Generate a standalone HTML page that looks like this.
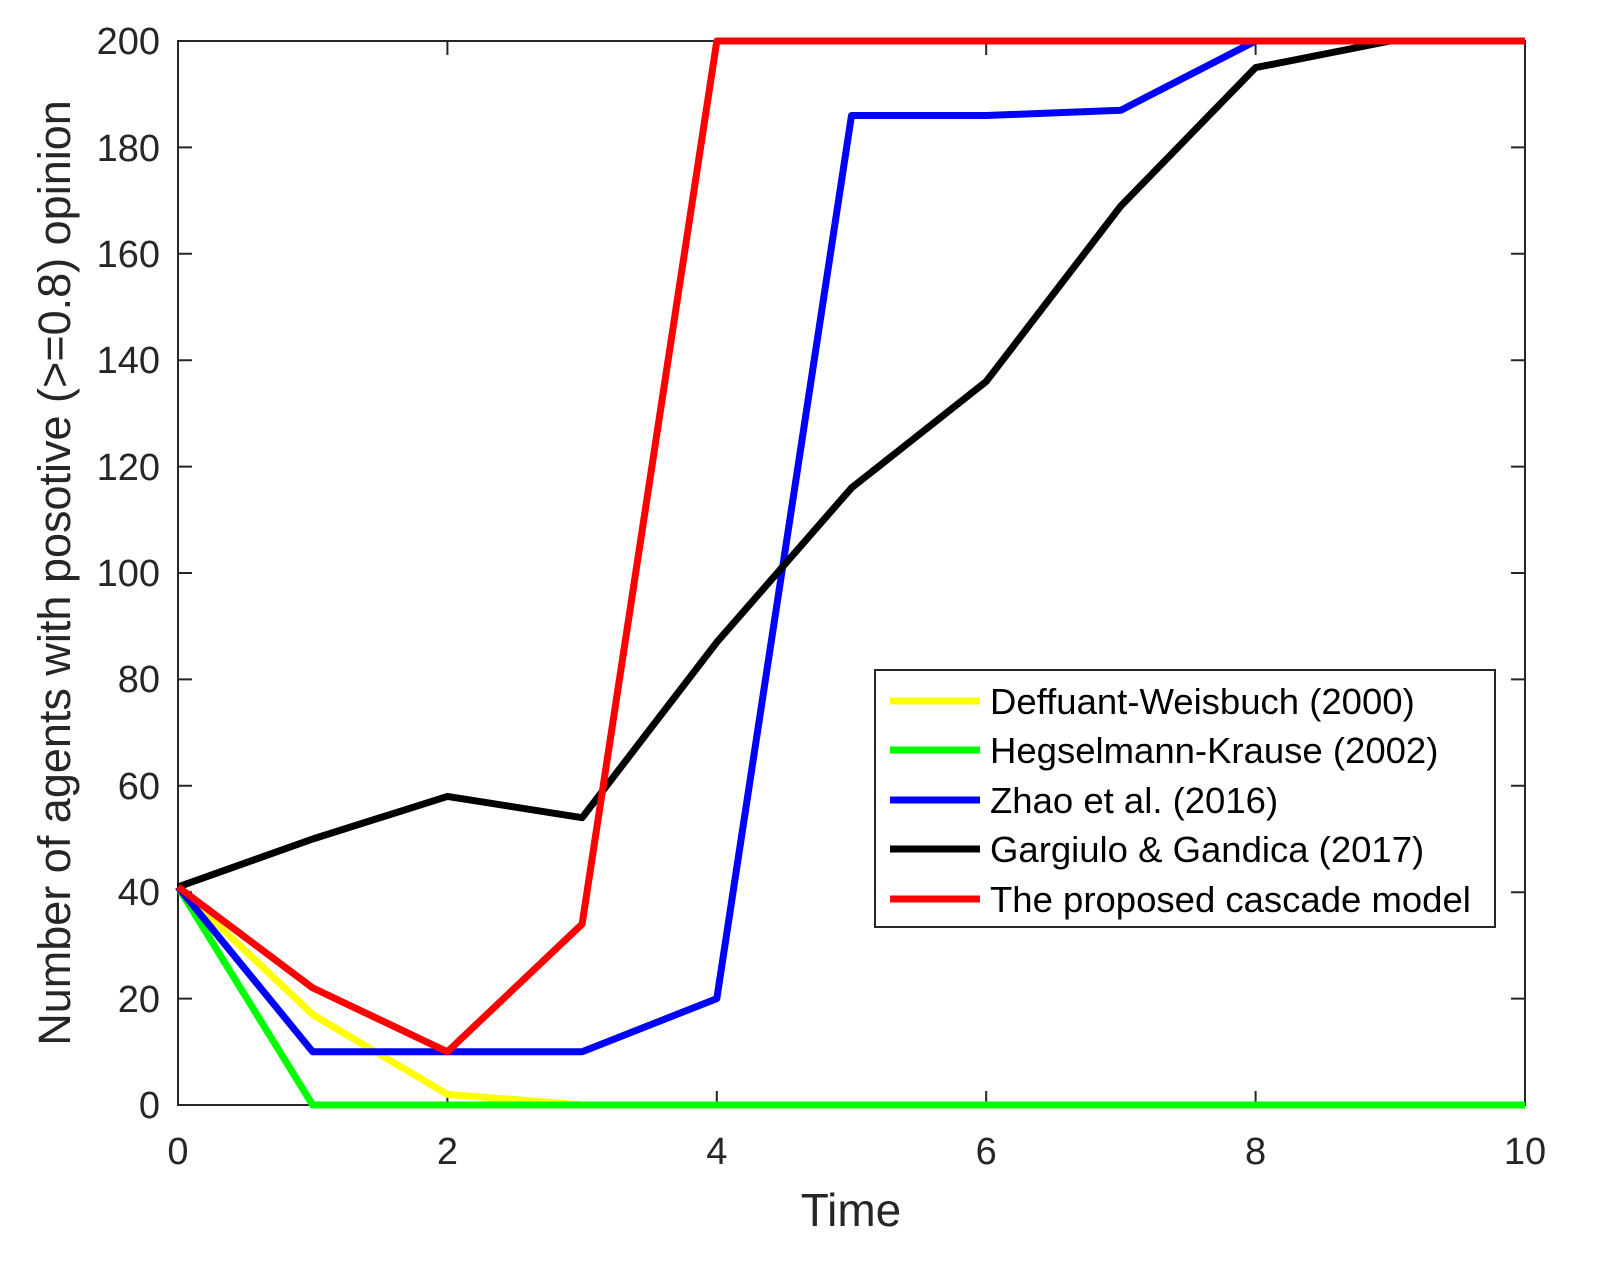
<!DOCTYPE html>
<html><head><style>body{margin:0;background:#fff}svg{display:block}</style></head><body>
<svg width="1605" height="1286" xmlns="http://www.w3.org/2000/svg" font-family="Liberation Sans, Arial, sans-serif">
<rect width="1605" height="1286" fill="#fff"/>
<g stroke="#262626" stroke-width="2" fill="none">
<rect x="178" y="41" width="1347" height="1064"/>
<path d="M178 41v14M178 1105v-14M447.4 41v14M447.4 1105v-14M716.8 41v14M716.8 1105v-14M986.2 41v14M986.2 1105v-14M1255.6 41v14M1255.6 1105v-14M1525 41v14M1525 1105v-14"/>
<path d="M178 1105h14M1525 1105h-14M178 998.6h14M1525 998.6h-14M178 892.2h14M1525 892.2h-14M178 785.8h14M1525 785.8h-14M178 679.4h14M1525 679.4h-14M178 573h14M1525 573h-14M178 466.6h14M1525 466.6h-14M178 360.2h14M1525 360.2h-14M178 253.8h14M1525 253.8h-14M178 147.4h14M1525 147.4h-14M178 41h14M1525 41h-14"/>
</g>
<g font-size="38" fill="#262626" text-anchor="middle">
<text x="178" y="1164">0</text><text x="447.4" y="1164">2</text><text x="716.8" y="1164">4</text><text x="986.2" y="1164">6</text><text x="1255.6" y="1164">8</text><text x="1525" y="1164">10</text>
</g>
<g font-size="38" fill="#262626" text-anchor="end">
<text x="160" y="1118">0</text><text x="160" y="1012">20</text><text x="160" y="905">40</text><text x="160" y="799">60</text><text x="160" y="692">80</text><text x="160" y="586">100</text><text x="160" y="480">120</text><text x="160" y="373">140</text><text x="160" y="267">160</text><text x="160" y="161">180</text><text x="160" y="54">200</text>
</g>
<text x="851" y="1226" font-size="46" fill="#262626" text-anchor="middle">Time</text>
<text transform="translate(70 573) rotate(-90)" font-size="45" fill="#262626" text-anchor="middle">Number of agents with posotive (&gt;=0.8) opinion</text>
<g fill="none" stroke-width="7" stroke-linejoin="round">
<polyline stroke="#ffff00" points="178,886.9 312.7,1014.6 447.4,1094.4 582.1,1105 1525,1105"/>
<polyline stroke="#00ff00" points="178,886.9 312.7,1105 1525,1105"/>
<polyline stroke="#0000ff" points="178,886.9 312.7,1051.8 582.1,1051.8 716.8,998.6 851.5,115.5 986.2,115.5 1120.9,110.2 1255.6,41 1525,41"/>
<polyline stroke="#000" points="178,886.9 312.7,839 447.4,796.4 582.1,817.7 716.8,642.2 851.5,487.9 986.2,381.5 1120.9,205.9 1255.6,67.6 1390.3,41 1525,41"/>
<polyline stroke="#ff0000" points="178,886.9 312.7,987.9 447.4,1051.8 582.1,924.1 716.8,41 1525,41"/>
</g>
<rect x="875" y="670" width="620" height="257" fill="#fff" stroke="#262626" stroke-width="2"/>
<g stroke-width="7">
<line x1="890" y1="701" x2="980" y2="701" stroke="#ffff00"/>
<line x1="890" y1="750" x2="980" y2="750" stroke="#00ff00"/>
<line x1="890" y1="800" x2="980" y2="800" stroke="#0000ff"/>
<line x1="890" y1="849" x2="980" y2="849" stroke="#000"/>
<line x1="890" y1="899" x2="980" y2="899" stroke="#ff0000"/>
</g>
<g font-size="36.5" fill="#000">
<text x="990" y="714">Deffuant-Weisbuch (2000)</text>
<text x="990" y="763">Hegselmann-Krause (2002)</text>
<text x="990" y="813">Zhao et al. (2016)</text>
<text x="990" y="862">Gargiulo &amp; Gandica (2017)</text>
<text x="990" y="912">The proposed cascade model</text>
</g>
</svg>
</body></html>
